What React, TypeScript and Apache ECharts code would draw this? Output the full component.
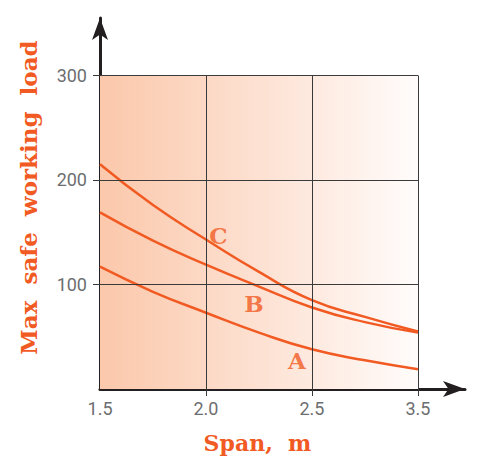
import React, { useEffect, useRef } from "react";
import * as echarts from "echarts";

// Span values (m) at which the curves were read
const spans = [1.5, 1.75, 2.0, 2.25, 2.5, 2.75, 3.0];
// Max safe working load for each curve
const curveA = [117, 93, 73, 54, 38, 27.5, 19];
const curveB = [169, 142, 119, 98, 78, 64, 54];
const curveC = [215, 176, 143, 112, 85, 69, 55];
const curveNames = ["A", "B", "C"];
// Curve label positions [span, load]
const labelPoints = [
  [2.429, 27.5],
  [2.226, 82],
  [2.059, 147],
];
// Tick positions and labels
const xTickValues = [1.5, 2.0, 2.5, 3.0];
const xTickLabels = ["1.5", "2.0", "2.5", "3.5"];
const yTickValues = [100, 200, 300];
const yTickLabels = ["100", "200", "300"];

const ORANGE = "#f15a22";
const GRID = "#3a3a3a";
const LABEL_GRAY = "#6d6e70";
const SERIF = "'DejaVu Serif', serif";

export default function App() {
  const ref = useRef<HTMLDivElement>(null);
  useEffect(() => {
    if (!ref.current) return;
    const chart = echarts.init(ref.current, undefined, { renderer: "svg" });
    const mk = (vals: number[]) => spans.map((s, i) => [s, vals[i]]);
    const curves = [curveA, curveB, curveC];

    const gridLines: any[] = [];
    [2.0, 2.5, 3.0].forEach((x) =>
      gridLines.push([{ coord: [x, 0] }, { coord: [x, 300] }])
    );
    [100, 200, 300].forEach((y) =>
      gridLines.push([{ coord: [1.5, y] }, { coord: [3.0, y] }])
    );

    chart.setOption({
      animation: false,
      grid: { left: 100, right: 12, top: 18, bottom: 67 },
      xAxis: {
        type: "value",
        min: 1.5,
        max: 3.222,
        interval: 0.5,
        name: "Span,  m",
        nameLocation: "middle",
        nameGap: 43,
        nameTextStyle: {
          color: ORANGE,
          fontFamily: SERIF,
          fontWeight: "bold",
          fontSize: 22,
          padding: [0, 50, 0, 0],
        },
        axisLine: {
          show: true,
          symbol: ["none", "arrow"],
          symbolSize: [12, 22],
          lineStyle: { color: "#231f20", width: 3 },
        },
        axisTick: {
          show: true,
          customValues: [2.0, 2.5, 3.0],
          length: 7,
          lineStyle: { color: GRID, width: 1 },
        },
        axisLabel: {
          customValues: xTickValues,
          formatter: (v: number) => {
            const i = xTickValues.findIndex((t) => Math.abs(t - v) < 1e-6);
            return i >= 0 ? xTickLabels[i] : "";
          },
          color: LABEL_GRAY,
          fontFamily: "Roboto",
          fontSize: 18,
          margin: 10,
        },
        splitLine: { show: false },
      },
      yAxis: {
        type: "value",
        min: 0,
        max: 355,
        interval: 100,
        name: "Max  safe  working  load",
        nameLocation: "middle",
        nameGap: 60,
        nameTextStyle: {
          color: ORANGE,
          fontFamily: SERIF,
          fontWeight: "bold",
          fontSize: 23,
          padding: [0, 0, 0, 12],
        },
        axisLine: {
          show: true,
          symbol: ["none", "arrow"],
          symbolSize: [12, 22],
          lineStyle: { color: "#231f20", width: 3 },
        },
        axisTick: {
          show: true,
          customValues: yTickValues,
          length: 7,
          lineStyle: { color: GRID, width: 1 },
        },
        axisLabel: {
          customValues: yTickValues,
          formatter: (v: number) => {
            const i = yTickValues.findIndex((t) => Math.abs(t - v) < 1e-6);
            return i >= 0 ? yTickLabels[i] : "";
          },
          color: LABEL_GRAY,
          fontFamily: "Roboto",
          fontSize: 18,
          margin: 13,
          padding: [0, 0, 16, 0],
        },
        splitLine: { show: false },
      },
      series: [
        {
          type: "line",
          data: [],
          z: 1,
          silent: true,
          markArea: {
            silent: true,
            itemStyle: {
              color: new echarts.graphic.LinearGradient(0, 0, 1, 0, [
                { offset: 0, color: "#fbc8ab" },
                { offset: 0.5, color: "#fde1d2" },
                { offset: 1, color: "#fffcfb" },
              ]),
            },
            data: [[{ coord: [1.5, 0] }, { coord: [3.0, 300] }]],
          },
          markLine: {
            silent: true,
            symbol: "none",
            label: { show: false },
            lineStyle: { color: GRID, width: 1, type: "solid" },
            data: gridLines,
          },
        },
        ...curves.map((c, i) => ({
          type: "line",
          name: curveNames[i],
          data: mk(c),
          smooth: 0.5,
          showSymbol: false,
          z: 3,
          lineStyle: { color: ORANGE, width: 2.5 },
        })),
        {
          type: "scatter",
          z: 4,
          symbolSize: 1,
          itemStyle: { color: "rgba(0,0,0,0)" },
          data: labelPoints.map((p, i) => ({
            value: p,
            label: { formatter: curveNames[i] },
          })),
          label: {
            show: true,
            position: "inside",
            color: ORANGE,
            fontFamily: SERIF,
            fontWeight: "bold",
            fontSize: 23,
          },
        },
      ],
    });
    return () => chart.dispose();
  }, []);
  return (
    <div
      ref={ref}
      style={{ position: "absolute", left: 0, top: 0, width: 477, height: 459 }}
    />
  );
}
